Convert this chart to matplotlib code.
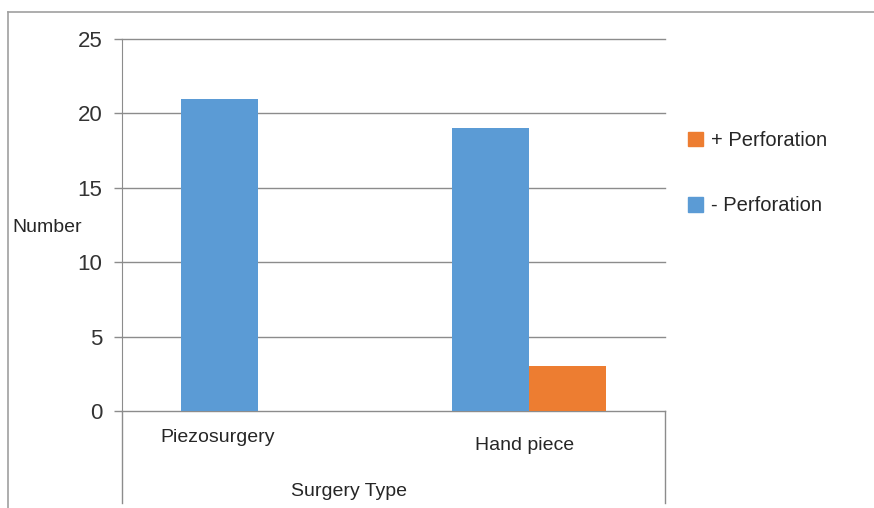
import matplotlib
matplotlib.use('Agg')
import matplotlib.pyplot as plt
from matplotlib.lines import Line2D
from matplotlib.patches import Patch
import numpy as np

# counts per surgery type
categories = ['Piezosurgery', 'Hand piece']
minus_perf = [21, 19]
plus_perf = [0, 3]
yticks = [0, 5, 10, 15, 20, 25]

blue = '#5B9BD5'
orange = '#ED7D31'
grid_col = '#8C8C8C'
txt_col = '#262626'

plt.rcParams['font.family'] = ['Liberation Sans', 'DejaVu Sans']

fig = plt.figure(figsize=(8.74, 5.08), dpi=100)
ax = fig.add_axes([122/874, 1-411/508, (665-122)/874, (411-39)/508])

x = np.arange(len(categories))
w = 0.284
ax.bar(x - w/2, minus_perf, w, color=blue, zorder=3)
ax.bar(x + w/2, plus_perf, w, color=orange, zorder=3)

ax.set_xlim(-0.5, 1.5)
ax.set_ylim(0, 25)
ax.set_yticks(yticks)
ax.set_yticklabels([str(t) for t in yticks], fontsize=16, color='#333333')
ax.tick_params(axis='y', length=6, width=1, color=grid_col, pad=8)
ax.set_xticks([])
ax.grid(axis='y', color=grid_col, lw=1, zorder=0)
for gl in ax.get_ygridlines():
    gl.set_clip_on(False)
for s in ['top', 'right', 'bottom']:
    ax.spines[s].set_visible(False)
ax.spines['left'].set_color(grid_col)

# category labels under the bars
ax.annotate(categories[0], xy=(x[0], 0), xytext=(-40, -27), textcoords='offset pixels',
            fontsize=14, ha='center', va='center', color=txt_col)
ax.annotate(categories[1], xy=(x[1], 0), xytext=(-5, -35), textcoords='offset pixels',
            fontsize=14, ha='center', va='center', color=txt_col)

# lines of the category band below zero
fig.add_artist(Line2D([122/874, 122/874], [1-411/508, 1-503/508], color=grid_col, lw=1))
fig.add_artist(Line2D([665/874, 665/874], [1-411/508, 1-503/508], color=grid_col, lw=1))

# outer chart frame
fig.add_artist(Line2D([8/874, 1.0], [1-12/508, 1-12/508], color='#A0A0A0', lw=1.2))
fig.add_artist(Line2D([8/874, 8/874], [1-12/508, 0.0], color='#A0A0A0', lw=1.2))

fig.text(349/874, 1-492/508, 'Surgery Type', fontsize=14, ha='center', va='center', color=txt_col)
fig.text(12/874, 1-227/508, 'Number', fontsize=14, ha='left', va='center', color=txt_col)

handles = [Patch(color=orange), Patch(color=blue)]
fig.legend(handles, ['+ Perforation', '- Perforation'], loc='upper left',
           bbox_to_anchor=(688/874, 1-131/508), frameon=False, fontsize=14.5,
           handlelength=0.75, handleheight=0.75, handletextpad=0.4,
           labelspacing=2.3, borderpad=0, borderaxespad=0, labelcolor=txt_col)

fig.savefig('out.png', dpi=100, facecolor='white')
